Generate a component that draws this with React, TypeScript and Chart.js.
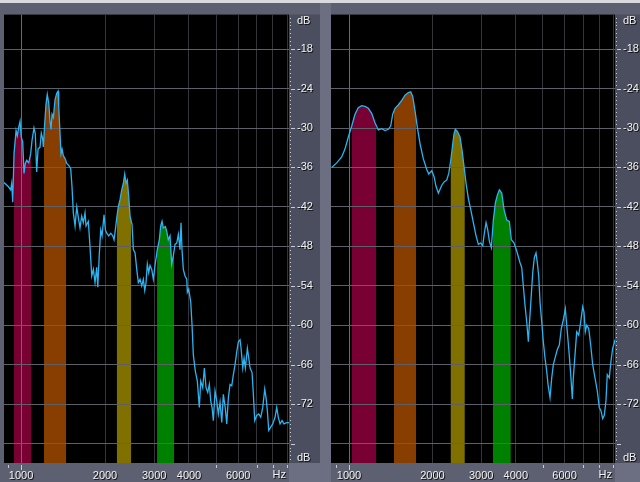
import React, { useEffect, useRef } from 'react';
import { Chart, registerables } from 'chart.js';

Chart.register(...registerables);

// Spectrum traces: frequency (Hz) and level (dB)
const leftFreq = [
  869, 900, 918, 926, 934, 944, 960, 970, 981, 992,
  1002, 1014, 1025, 1036, 1048, 1066, 1083, 1095, 1113, 1125,
  1138, 1151, 1170, 1182, 1196, 1202, 1216, 1229, 1242, 1257,
  1270, 1281, 1292, 1306, 1324, 1343, 1357, 1365, 1380, 1391,
  1403, 1418, 1441, 1458, 1483, 1507, 1523, 1540, 1562, 1584,
  1610, 1627, 1650, 1672, 1696, 1710, 1743, 1768, 1793, 1817,
  1842, 1868, 1884, 1909, 1931, 1952, 1984, 2006, 2029, 2063,
  2097, 2132, 2155, 2178, 2203, 2233, 2264, 2296, 2327, 2354,
  2378, 2404, 2432, 2459, 2500, 2527, 2563, 2599, 2633, 2671,
  2708, 2744, 2776, 2806, 2836, 2869, 2900, 2941, 2980, 3030,
  3080, 3131, 3167, 3202, 3236, 3290, 3328, 3372, 3420, 3468,
  3515, 3564, 3615, 3663, 3714, 3745, 3776, 3817, 3871, 3926,
  3946, 3991, 4058, 4102, 4146, 4215, 4285, 4356, 4407, 4480,
  4540, 4604, 4669, 4731, 4786, 4838, 4890, 4959, 5029, 5096,
  5168, 5241, 5311, 5399, 5462, 5535, 5613, 5692, 5768, 5850,
  5933, 6011, 6096, 6147, 6234, 6301, 6369, 6475, 6550, 6621,
  6731, 6803, 6882, 6997, 7113, 7231, 7351, 7474, 7554, 7636,
  7725, 7853, 7983, 8136, 8251, 8360, 8479, 8620, 8763, 8960, 9130,
];
const leftLevel = [
  -38.3, -38.9, -39.4, -38.4, -41.3, -33.9, -30.4, -31.2, -29.9, -29.0,
  -31.4, -32.1, -36.9, -35.4, -34.9, -35.3, -33.9, -31.9, -30.0, -30.9,
  -36.7, -33.2, -32.9, -30.8, -31.7, -32.9, -29.3, -26.4, -24.9, -26.2,
  -28.9, -30.2, -27.9, -28.4, -25.7, -24.7, -24.4, -26.7, -30.9, -33.9,
  -33.2, -34.2, -34.7, -35.4, -35.7, -36.2, -38.9, -42.9, -44.9, -42.0,
  -44.0, -45.2, -43.4, -44.4, -42.9, -44.9, -44.2, -48.2, -52.5, -51.5,
  -53.5, -51.2, -54.2, -49.0, -45.5, -46.4, -43.2, -45.5, -46.0, -46.4,
  -46.0, -46.4, -47.0, -45.5, -43.7, -41.9, -40.9, -39.4, -38.4, -37.0,
  -38.4, -37.9, -40.4, -43.4, -44.7, -48.5, -49.0, -51.5, -53.5, -53.0,
  -54.0, -53.0, -54.7, -53.5, -50.7, -52.0, -50.9, -51.5, -53.0, -50.5,
  -48.5, -47.0, -44.9, -44.2, -45.2, -45.0, -45.7, -47.0, -46.4, -50.7,
  -49.4, -47.7, -47.5, -46.2, -48.5, -44.4, -48.5, -51.5, -52.5, -53.0,
  -55.0, -54.5, -56.5, -60.0, -64.5, -67.0, -68.5, -72.5, -68.5, -69.5,
  -66.5, -69.5, -70.2, -69.0, -71.5, -72.5, -74.5, -70.0, -71.5, -73.5,
  -71.7, -74.8, -70.5, -72.7, -75.0, -71.0, -69.0, -69.2, -67.5, -66.0,
  -64.0, -62.5, -62.2, -63.5, -66.5, -65.0, -66.5, -63.5, -65.0, -66.5,
  -67.2, -70.5, -74.5, -73.7, -73.5, -74.0, -72.5, -69.7, -71.0, -73.0,
  -76.0, -75.5, -75.0, -74.0, -72.5, -74.0, -75.0, -74.5, -75.0, -74.8, -74.8,
];

const rightFreq = [
  866, 903, 941, 967, 994, 1023, 1051, 1080, 1111, 1142,
  1174, 1208, 1241, 1276, 1312, 1349, 1386, 1414, 1438, 1466,
  1506, 1550, 1593, 1637, 1670, 1698, 1731, 1765, 1805, 1855,
  1908, 1940, 1989, 2028, 2062, 2102, 2162, 2204, 2254, 2291,
  2330, 2369, 2394, 2420, 2461, 2517, 2559, 2602, 2645, 2696,
  2751, 2811, 2875, 2930, 2989, 3039, 3080, 3124, 3168, 3211,
  3264, 3319, 3375, 3431, 3489, 3559, 3628, 3710, 3791, 3854,
  3942, 4031, 4143, 4202, 4258, 4319, 4381, 4439, 4476, 4540,
  4604, 4666, 4732, 4784, 4840, 4892, 4962, 5028, 5100, 5172,
  5229, 5316, 5392, 5464, 5542, 5648, 5743, 5839, 5937, 6036,
  6137, 6224, 6313, 6398, 6451, 6543, 6636, 6747, 6860, 6975,
  7050, 7127, 7211, 7331, 7454, 7579, 7725, 7874, 8005, 8119,
  8235, 8345, 8463, 8555, 8699, 8822, 8948, 9068, 9123,
];
const rightLevel = [
  -36.0, -35.3, -34.4, -33.2, -31.4, -29.7, -27.9, -26.9, -26.6, -26.7,
  -27.0, -27.8, -29.2, -30.3, -30.1, -30.4, -30.2, -29.7, -27.9, -27.0,
  -26.5, -25.8, -25.0, -24.6, -24.5, -25.2, -27.4, -29.9, -32.4, -34.7,
  -36.3, -37.0, -36.5, -37.4, -38.9, -39.9, -38.7, -38.2, -37.9, -36.9,
  -34.9, -32.4, -30.9, -30.2, -30.5, -31.4, -33.4, -35.9, -38.4, -40.7,
  -42.4, -44.4, -46.4, -47.7, -47.5, -47.9, -46.0, -44.4, -45.5, -47.2,
  -48.2, -44.0, -41.4, -40.2, -39.4, -39.9, -42.4, -44.0, -44.2, -47.0,
  -47.5, -48.7, -50.5, -51.2, -54.0, -57.0, -59.5, -62.5, -60.0, -56.0,
  -52.0, -49.7, -49.0, -50.5, -52.5, -56.5, -59.5, -62.5, -65.0, -67.0,
  -69.0, -71.0, -68.0, -66.0, -65.0, -63.7, -63.0, -60.5, -59.2, -57.5,
  -61.0, -64.0, -67.5, -71.2, -68.0, -64.5, -61.0, -61.5, -59.5, -57.2,
  -58.0, -61.0, -60.0, -60.5, -63.0, -66.0, -68.0, -70.0, -72.5, -73.0,
  -74.2, -73.7, -71.5, -67.5, -68.0, -65.5, -63.5, -62.7, -62.2,
];

// Highlighted formant bands [low Hz, high Hz]
const leftBands = [[944, 1086], [1209, 1450], [2207, 2480], [3074, 3535]];
const rightBands = [[1023, 1252], [1453, 1745], [2330, 2616], [3309, 3834]];
const bandColors = ['#780032', '#883e00', '#7f7000', '#008000'];

// Axis ticks
const freqTicks = [900, 1000, 2000, 3000, 4000, 5000, 6000, 7000, 8000, 9000];
const freqLabels = [1000, 2000, 3000, 4000, 6000];
const levelTicks = [-78, -72, -66, -60, -54, -48, -42, -36, -30, -24, -18];
const levelLabels = [-72, -66, -60, -54, -48, -42, -36, -30, -24, -18];

const W = 320;
const H = 482;
const PLOT_TOP = 9;
const PLOT_BOTTOM = 463;
const LEVEL_MIN = -80.95;
const LEVEL_MAX = -12.75;

const COLORS = {
  plot: '#000000',
  frame: '#5c6070',
  strip: '#4a4e5e',
  divider: '#6b6f81',
  topEdge: '#d9d9de',
  gridH: '#5f5f6a',
  gridV: '#34343b',
  gridMajor: '#6a6a74',
  trace: '#2cb3f0',
  text: '#f2f2f2',
  tickMark: '#c9cad2',
};
const FONT = '"Liberation Sans", Arial, sans-serif';

type PanelProps = {
  freq: number[];
  level: number[];
  bands: number[][];
  fMin: number;
  fMax: number;
  padLeft: number;
  axisWidth: number;
  left: number;
};

function shadowText(ctx: CanvasRenderingContext2D, text: string, x: number, y: number, align: CanvasTextAlign) {
  ctx.font = `11px ${FONT}`;
  ctx.textAlign = align;
  ctx.textBaseline = 'middle';
  ctx.fillStyle = 'rgba(0,0,0,0.85)';
  ctx.fillText(text, x + 1, y + 1);
  ctx.fillStyle = COLORS.text;
  ctx.fillText(text, x, y);
}

function SpectrumPanel({ freq, level, bands, fMin, fMax, padLeft, axisWidth, left }: PanelProps) {
  const ref = useRef<HTMLCanvasElement>(null);

  useEffect(() => {
    const canvas = ref.current;
    if (!canvas) return;
    const points = freq.map((f, i) => ({ x: f, y: level[i] }));

    const chrome = {
      id: 'spectrumChrome',
      beforeDraw(chart: any) {
        const { ctx, chartArea: a } = chart;
        const w = chart.width;
        const h = chart.height;
        ctx.save();
        ctx.fillStyle = COLORS.frame;
        ctx.fillRect(0, 0, w, h);
        if (a.left > 6) {
          ctx.fillStyle = COLORS.divider;
          ctx.fillRect(0, 0, a.left, h);
        }
        ctx.fillStyle = COLORS.topEdge;
        ctx.fillRect(0, 0, w, 3);
        ctx.fillStyle = COLORS.strip;
        ctx.fillRect(a.right, a.top, w - a.right, a.bottom - a.top);
        ctx.fillStyle = COLORS.divider;
        ctx.fillRect(a.right, a.bottom, w - a.right, h - a.bottom);
        ctx.fillStyle = COLORS.plot;
        ctx.fillRect(a.left, a.top, a.right - a.left, a.bottom - a.top);

        // formant bands: area under the trace, limited to each band
        const pts = chart.getDatasetMeta(0).data;
        const xs = chart.scales.x;
        bands.forEach(([lo, hi], i) => {
          const x0 = xs.getPixelForValue(lo);
          const x1 = xs.getPixelForValue(hi);
          ctx.save();
          ctx.beginPath();
          ctx.rect(x0, a.top, x1 - x0, a.bottom - a.top);
          ctx.clip();
          ctx.beginPath();
          ctx.moveTo(pts[0].x, a.bottom);
          pts.forEach((p: any) => ctx.lineTo(p.x, p.y));
          ctx.lineTo(pts[pts.length - 1].x, a.bottom);
          ctx.closePath();
          ctx.fillStyle = bandColors[i];
          ctx.fill();
          ctx.restore();
        });
        ctx.restore();
      },
      afterDatasetsDraw(chart: any) {
        const ctx = chart.ctx;
        ctx.save();
        ctx.shadowColor = 'rgba(0,0,0,0.85)';
        ctx.shadowOffsetX = 1;
        ctx.shadowOffsetY = 1;
        ctx.shadowBlur = 0;
      },
      afterDraw(chart: any) {
        const { ctx, chartArea: a } = chart;
        ctx.restore();
        const ys = chart.scales.y;
        const xs = chart.scales.x;
        ctx.save();
        ctx.fillStyle = COLORS.tickMark;
        // minor level dots every 0.6 dB
        for (let k = -4; k < 120; k++) {
          const v = -78 + k * 0.6;
          if (v < LEVEL_MIN || v > LEVEL_MAX) continue;
          if (k % 10 === 0) continue;
          const y = Math.round(ys.getPixelForValue(v));
          ctx.fillRect(a.right + 1, y, 1, 1);
        }
        // major level dashes
        levelTicks.forEach((v) => {
          const y = Math.round(ys.getPixelForValue(v));
          ctx.fillRect(a.right + 2, y, 4, 1);
        });
        // frequency tick marks
        freqTicks.forEach((v) => {
          if (freqLabels.includes(v) && v !== 1000) return;
          const x = Math.round(xs.getPixelForValue(v));
          ctx.fillRect(x, a.bottom + 2, 1, v === 1000 ? 5 : 3);
        });
        shadowText(ctx, 'dB', a.right + 8, a.top + 6, 'left');
        shadowText(ctx, 'dB', a.right + 8, a.bottom - 5, 'left');
        shadowText(ctx, 'Hz', a.right - 3, a.bottom + 12, 'right');
        ctx.restore();
      },
    };

    const chart = new Chart(canvas, {
      type: 'line',
      data: {
        datasets: [
          {
            data: points,
            borderColor: COLORS.trace,
            borderWidth: 1.3,
            pointRadius: 0,
            tension: 0,
            fill: false,
          },
        ],
      },
      options: {
        responsive: false,
        animation: false,
        devicePixelRatio: 1,
        events: [],
        layout: { padding: { left: padLeft, top: PLOT_TOP, right: 0, bottom: 0 } },
        plugins: { legend: { display: false }, tooltip: { enabled: false } },
        scales: {
          x: {
            type: 'logarithmic',
            position: 'bottom',
            min: fMin,
            max: fMax,
            afterBuildTicks: (s: any) => {
              s.ticks = freqTicks.map((v) => ({ value: v }));
            },
            afterFit: (s: any) => {
              s.height = H - PLOT_BOTTOM;
            },
            grid: {
              drawTicks: false,
              lineWidth: 1,
              color: (c: any) => {
                const v = c.tick ? c.tick.value : 0;
                if (v === 900) return 'rgba(0,0,0,0)';
                return v === 1000 ? COLORS.gridMajor : COLORS.gridV;
              },
            },
            border: { display: false },
            ticks: {
              autoSkip: false,
              maxRotation: 0,
              minRotation: 0,
              padding: 6,
              color: COLORS.text,
              font: { family: FONT, size: 11 },
              z: 1,
              callback: (v: any) => (freqLabels.includes(Number(v)) ? String(v) : ''),
            },
          },
          y: {
            type: 'linear',
            position: 'right',
            min: LEVEL_MIN,
            max: LEVEL_MAX,
            afterBuildTicks: (s: any) => {
              s.ticks = levelTicks.map((v) => ({ value: v }));
            },
            afterFit: (s: any) => {
              s.width = axisWidth;
            },
            grid: { drawTicks: false, lineWidth: 1, color: COLORS.gridH },
            border: { display: false },
            ticks: {
              padding: 8,
              color: COLORS.text,
              font: { family: FONT, size: 11 },
              z: 1,
              callback: (v: any) => (levelLabels.includes(Number(v)) ? String(v) : ''),
            },
          },
        },
      },
      plugins: [chrome],
    } as any);

    return () => chart.destroy();
  }, [freq, level, bands, fMin, fMax, padLeft, axisWidth]);

  return (
    <canvas
      ref={ref}
      width={W}
      height={H}
      style={{ position: 'absolute', left, top: 0, width: W, height: H, display: 'block' }}
    />
  );
}

export default function App() {
  return (
    <div style={{ position: 'fixed', left: 0, top: 0, width: 640, height: 482, overflow: 'hidden', background: COLORS.frame }}>
      <SpectrumPanel
        freq={leftFreq}
        level={leftLevel}
        bands={leftBands}
        fMin={869}
        fMax={9130}
        padLeft={4}
        axisWidth={31}
        left={0}
      />
      <SpectrumPanel
        freq={rightFreq}
        level={rightLevel}
        bands={rightBands}
        fMin={861}
        fMax={9123}
        padLeft={11}
        axisWidth={25}
        left={320}
      />
    </div>
  );
}
